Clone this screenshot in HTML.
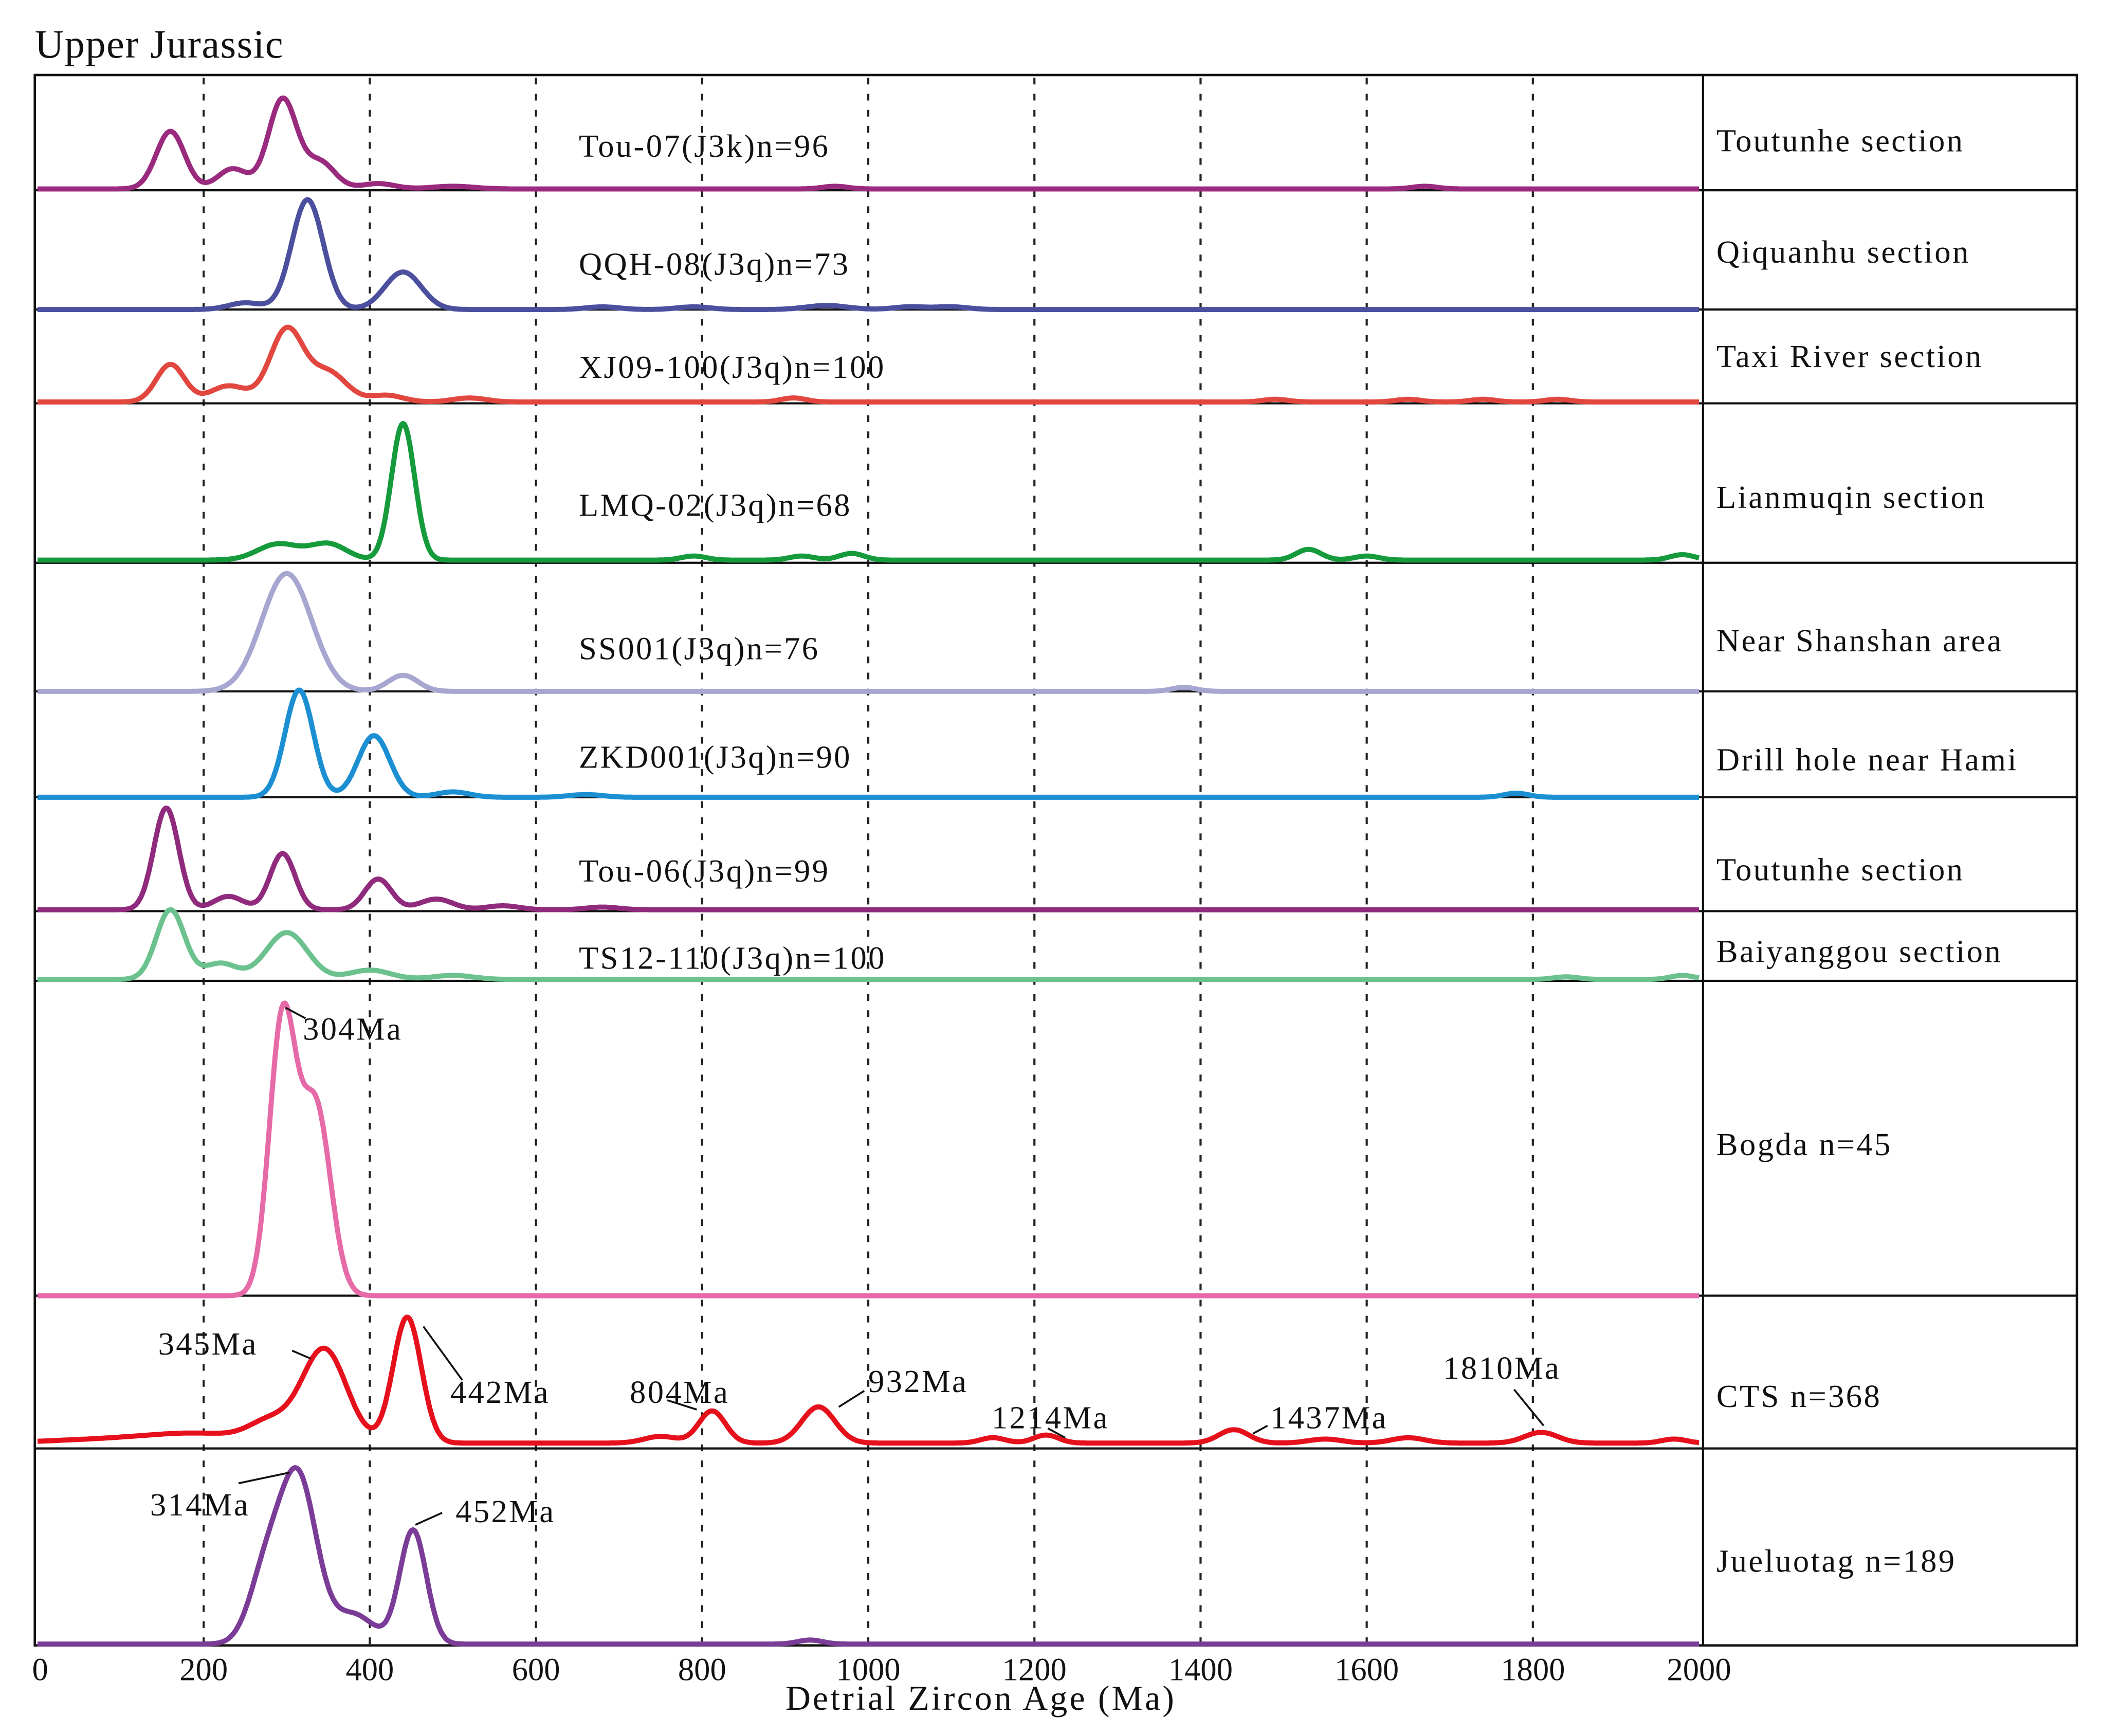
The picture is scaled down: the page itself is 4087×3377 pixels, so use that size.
<!DOCTYPE html>
<html><head><meta charset="utf-8"><style>
html,body{margin:0;padding:0;background:#fff}
svg{display:block}
text{font-family:"Liberation Serif",serif;fill:#111}
</style></head><body>
<svg id="chart" width="4087" height="3377" viewBox="0 0 1568 1295.6" xmlns="http://www.w3.org/2000/svg">
<g id="grid"></g>
<g id="frame"></g>
<g id="curves"></g>
<g id="labels"></g>
<text x="26" y="43" font-size="30" letter-spacing="0.6">Upper Jurassic</text>
<text x="732" y="1276" font-size="26" text-anchor="middle" letter-spacing="1.6">Detrial Zircon Age (Ma)</text>
</svg>
<script>
// ---- data ----
const xTicks = [0,200,400,600,800,1000,1200,1400,1600,1800,2000];
const gridAges = [200,400,600,800,1000,1200,1400,1600,1800];
const panelNames = ["Toutunhe section","Qiquanhu section","Taxi River section","Lianmuqin section","Near Shanshan area","Drill hole near Hami","Toutunhe section","Baiyanggou section","Bogda n=45","CTS n=368","Jueluotag n=189"];
const sampleNames = ["Tou-07(J3k)n=96","QQH-08(J3q)n=73","XJ09-100(J3q)n=100","LMQ-02(J3q)n=68","SS001(J3q)n=76","ZKD001(J3q)n=90","Tou-06(J3q)n=99","TS12-110(J3q)n=100","","",""];
const colors = ["#9a2a7e","#4b4f9e","#e2473f","#159a3c","#a6a6d0","#1b8fd2","#8f2a7c","#6cc28e","#e66aa8","#e5101c","#7b3c98"];
// peak ages (Ma), heights (relative px), widths (Ma)
const peakAges = [
 [160,235,295,340,410,500,960,1670],
 [250,325,440,680,790,950,1050,1100],
 [160,230,300,350,420,520,910,1490,1650,1740,1830],
 [290,350,440,790,920,980,1530,1600,1980],
 [300,440,1380],
 [315,405,500,660,1780],
 [155,230,295,410,480,560,680],
 [160,220,300,400,500,1840,1980],
 [295,335],
 [100,200,280,345,445,750,812,940,1150,1214,1440,1550,1650,1810,1970],
 [275,314,380,452,930]
];
const peakHeights = [
 [43,15,67,20,4,2,2,2],
 [5,82,28,2,2,3,2,2],
 [28,12,54,22,5,3,3,2,2,2,2],
 [12,12,102,3,3,5,8,3,4],
 [88,12,3],
 [80,46,4,2,3],
 [76,10,42,23,8,3,2],
 [52,12,35,7,3,2,3],
 [205,140],
 [3,6,14,70,94,5,24,27,4,6,10,3,4,8,3],
 [52,122,22,85,3]
];
const peakWidths = [
 [17,18,17,18,20,25,15,15],
 [20,19,22,20,20,25,20,20],
 [17,22,20,22,20,20,15,15,15,15,15],
 [25,22,14,15,15,15,15,15,15],
 [30,18,15],
 [17,19,20,20,15],
 [15,18,15,16,20,20,20],
 [17,20,25,25,25,15,15],
 [16,18],
 [80,60,25,27,17,20,16,20,15,15,18,20,20,20,15],
 [20,22,25,16,15]
];
const baselines = [141,231,300,418,516,595,679,731,967,1077,1227];
const dividers = [56,142,231,301,420,516,595,680,732,967,1081,1228];
const sampleLabelY = [117,205,282,385,492,573,658,723];
const panelLabelY = [113,196,274,379,486,575,657,718,862,1050,1173];
const annoText = ["304Ma","345Ma","442Ma","804Ma","932Ma","1214Ma","1437Ma","1810Ma","314Ma","452Ma"];
// ---- layout ----
const NS="http://www.w3.org/2000/svg";
const X0=28,X1=1268;
const xs=a=>X0+(a/2000)*(X1-X0);
function mk(tag,attrs,parent){const e=document.createElementNS(NS,tag);for(const k in attrs)e.setAttribute(k,attrs[k]);parent.appendChild(e);return e;}
const grid=document.getElementById('grid'),frame=document.getElementById('frame'),curves=document.getElementById('curves'),labels=document.getElementById('labels');
gridAges.forEach(a=>{
  const l=mk('line',{x1:xs(a),x2:xs(a),y1:58,y2:1228,stroke:'#222','stroke-width':1.6,'stroke-dasharray':'5,7'},grid);
  
  
});
const box=mk('rect',{x:26,y:56,width:1524,height:1172,fill:'none',stroke:'#111','stroke-width':1.8},frame);


const vd=mk('line',{x1:1271,x2:1271,y1:56,y2:1228,stroke:'#111','stroke-width':1.6},frame);


dividers.slice(1,-1).forEach((y,i)=>{
  const l=mk('line',{x1:26,x2:1550,y1:y,y2:y,stroke:'#111','stroke-width':1.6},frame);
  
  
});
xTicks.forEach(t=>{
  const tx=mk('text',{x:xs(t)+(t==0?2:0),y:1254,'font-size':24,'text-anchor':'middle'},labels);
  tx.textContent=t;
  
  
});
for(let p=0;p<11;p++){
  let d='';
  for(let a=0;a<=2000;a+=2){
    let h=0;
    for(let k=0;k<peakAges[p].length;k++){const z=(a-peakAges[p][k])/peakWidths[p][k];h+=peakHeights[p][k]*Math.exp(-0.5*z*z);}
    d+=(a?'L':'M')+xs(a).toFixed(1)+','+(baselines[p]-h).toFixed(1);
  }
  const path=mk('path',{d:d,fill:'none',stroke:colors[p],'stroke-width':3.8,'stroke-linejoin':'round'},curves);
  
  
  const pn=mk('text',{x:1281,y:panelLabelY[p],'font-size':24,'letter-spacing':1.3},labels);
  pn.textContent=panelNames[p];
  
  
  if(sampleNames[p]){
    const sn=mk('text',{x:432,y:sampleLabelY[p],'font-size':24,'letter-spacing':1.3},labels);
    sn.textContent=sampleNames[p];
    
    
  }
}
const annoPos=[[226,776],[118,1011],[336,1047],[470,1047],[648,1039],[740,1066],[948,1066],[1077,1029],[112,1131],[340,1136]];
const annoLines=[[213,752,228,760],[218,1008,232,1014],[316,990,345,1030],[498,1045,520,1052],[626,1050,645,1038],[782,1066,795,1073],[935,1070,946,1064],[1130,1037,1152,1064],[178,1107,216,1099],[310,1138,330,1129]];
annoText.forEach((t,i)=>{
  const tx=mk('text',{x:annoPos[i][0],y:annoPos[i][1],'font-size':24,'letter-spacing':1.3},labels);
  tx.textContent=t;
  
  
  const L=annoLines[i];
  const ln=mk('line',{x1:L[0],y1:L[1],x2:L[2],y2:L[3],stroke:'#111','stroke-width':1.4},labels);
  
  
});
</script>
</body></html>
